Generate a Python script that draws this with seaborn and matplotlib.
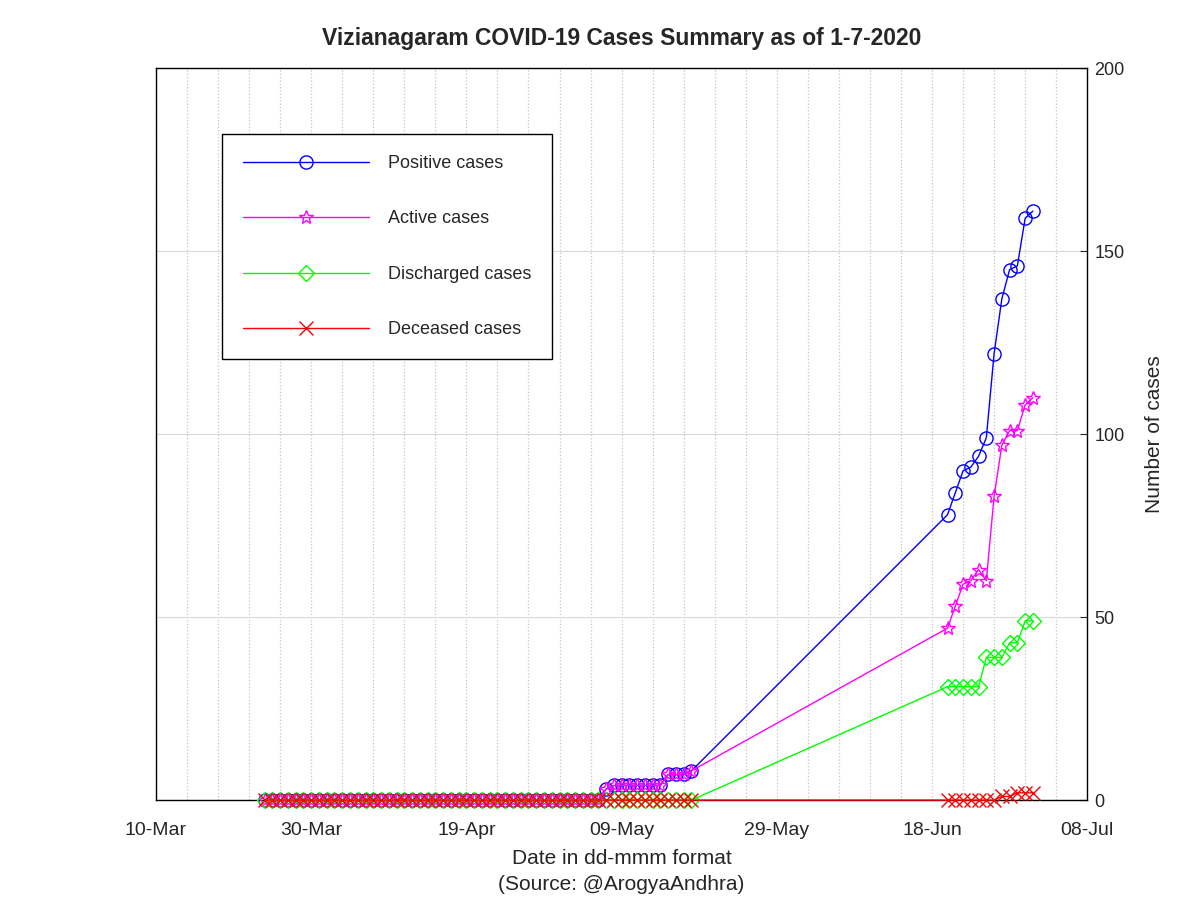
import pandas as pd
import seaborn as sns
import matplotlib.pyplot as plt
import matplotlib.dates as mdates

# Daily reports: 24-Mar to 18-May, then 20-Jun to 1-Jul
dates = list(pd.date_range('2020-03-24', '2020-05-18')) + list(pd.date_range('2020-06-20', '2020-07-01'))

# 24-Mar .. 6-May, all zero
early_zeros = [0, 0, 0, 0, 0, 0, 0, 0, 0, 0, 0, 0, 0, 0, 0, 0, 0, 0, 0, 0, 0, 0,
               0, 0, 0, 0, 0, 0, 0, 0, 0, 0, 0, 0, 0, 0, 0, 0, 0, 0, 0, 0, 0, 0]
# 7-May .. 18-May
may_cases = [3, 4, 4, 4, 4, 4, 4, 4, 7, 7, 7, 8]
may_zeros = [0, 0, 0, 0, 0, 0, 0, 0, 0, 0, 0, 0]

positive = early_zeros + may_cases + [78, 84, 90, 91, 94, 99, 122, 137, 145, 146, 159, 161]
active = early_zeros + may_cases + [47, 53, 59, 60, 63, 60, 83, 97, 101, 101, 108, 110]
discharged = early_zeros + may_zeros + [31, 31, 31, 31, 31, 39, 39, 39, 43, 43, 49, 49]
deceased = early_zeros + may_zeros + [0, 0, 0, 0, 0, 0, 0, 1, 1, 2, 2, 2]

series_names = ['Positive cases', 'Active cases', 'Discharged cases', 'Deceased cases']
series_colors = ['#0000ff', '#ff00ff', '#00ff00', '#ff0000']
series_markers = ['o', '*', 'D', 'x']
series_msize = [9.5, 10.5, 8, 9.5]

df = pd.DataFrame({'date': dates, 'Positive cases': positive, 'Active cases': active,
                   'Discharged cases': discharged, 'Deceased cases': deceased})

sns.set_style('white')
plt.rcParams['font.family'] = ['Liberation Sans', 'DejaVu Sans']

fig = plt.figure(figsize=(12, 9), dpi=100)
ax = fig.add_axes([0.13, 0.111, 0.776, 0.813])

for name, col, mk, ms in zip(series_names, series_colors, series_markers, series_msize):
    sns.lineplot(data=df, x='date', y=name, ax=ax, color=col, marker=mk, markersize=ms,
                 markerfacecolor='none', markeredgecolor=col, markeredgewidth=1.0,
                 linewidth=1.0, label=name, clip_on=False, zorder=3)

ax.set_xlim(pd.Timestamp('2020-03-10'), pd.Timestamp('2020-07-08'))
ax.set_ylim(0, 200)
major_ticks = pd.date_range('2020-03-10', '2020-07-08', freq='20D')
minor_ticks = pd.date_range('2020-03-10', '2020-07-08', freq='4D')
ax.set_xticks(major_ticks)
ax.set_xticks(minor_ticks, minor=True)
ax.xaxis.set_major_formatter(mdates.DateFormatter('%d-%b'))
ax.set_yticks([0, 50, 100, 150, 200])

ax.yaxis.tick_right()
ax.yaxis.set_label_position('right')
ax.tick_params(axis='x', which='major', direction='in', length=5, labelsize=14, pad=16)
ax.tick_params(axis='x', which='minor', length=0)
ax.tick_params(axis='y', direction='in', length=5, labelsize=13, pad=5)

ax.grid(axis='x', which='both', linestyle=':', color='#c4c4c4', linewidth=0.9)
ax.grid(axis='y', which='major', linestyle='-', color='#dadada', linewidth=0.8)
ax.set_axisbelow(True)
for s in ax.spines.values():
    s.set_color('black')
    s.set_linewidth(1.0)
    s.set_zorder(2)

ax.set_title('Vizianagaram COVID-19 Cases Summary as of 1-7-2020', fontsize=16.5,
             fontweight='bold', pad=17)
ax.set_xlabel('Date in dd-mmm format\n(Source: @ArogyaAndhra)', fontsize=15, labelpad=7,
              linespacing=1.45)
ax.set_ylabel('Number of cases', fontsize=15, labelpad=15)

leg = ax.legend(loc='upper left', bbox_to_anchor=(0.071, 0.91), borderaxespad=0,
                fontsize=13, handlelength=7, handletextpad=1.05, labelspacing=2.13,
                borderpad=1.15, numpoints=1, fancybox=False, framealpha=1,
                edgecolor='black')
leg.get_frame().set_linewidth(1.0)
leg.set_zorder(5)

fig.savefig('out.png', dpi=100)
